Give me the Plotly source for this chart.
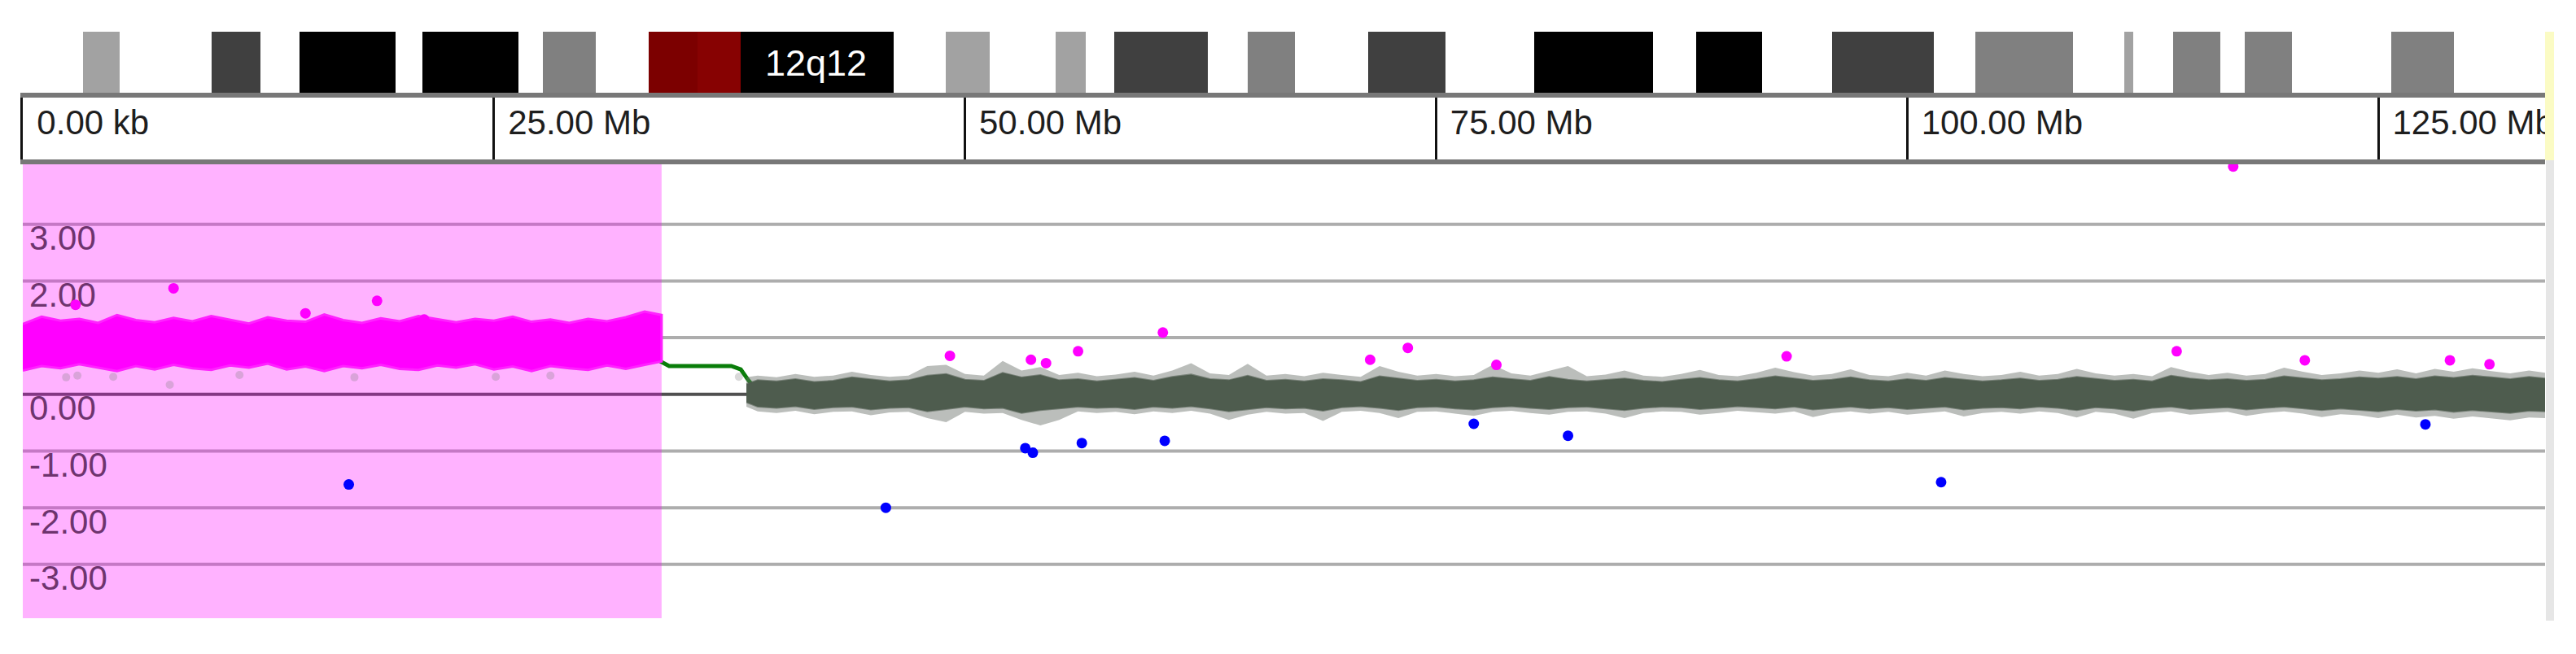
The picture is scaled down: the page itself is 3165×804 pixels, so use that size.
import plotly.graph_objects as go

W, H = 3165, 804
FONT = "Liberation Sans, Arial, sans-serif"

# chromosome 12, positions in Mb
chrom_len = 133.85

# ideogram bands (stained ones only, the rest is white)
band_start = [3.2, 10.0, 14.7, 21.2, 27.6, 33.2, 35.8, 38.1, 49.0, 54.8, 57.9,
              65.0, 71.4, 80.2, 88.8, 96.0, 103.6, 111.5, 114.1, 117.9, 125.7]
band_end = [5.15, 12.6, 19.8, 26.3, 30.4, 35.8, 38.1, 46.2, 51.3, 56.4, 62.9,
            67.5, 75.5, 86.5, 92.3, 101.4, 108.8, 112.0, 116.6, 120.4, 129.0]
band_stain = ["gpos25", "gpos75", "gpos100", "gpos100", "gpos50", "acen", "acen2",
              "gpos100", "gpos25", "gpos25", "gpos75", "gpos50", "gpos75", "gpos100",
              "gpos100", "gpos75", "gpos50", "gpos25", "gpos50", "gpos50", "gpos50"]
stain_color = {"gpos25": "#a2a2a2", "gpos50": "#808080", "gpos75": "#404040",
               "gpos100": "#000000", "acen": "#7c0000", "acen2": "#870202"}
band_label = "12q12"
band_label_pos = 42.1

# ruler
ruler_ticks = [0, 25, 50, 75, 100, 125]
ruler_labels = ["0.00 kb", "25.00 Mb", "50.00 Mb", "75.00 Mb", "100.00 Mb", "125.00 Mb"]

# log ratio axis
grid_vals = [-3, -2, -1, 1, 2, 3]
ylab_vals = [3, 2, 1, 0, -1, -2, -3]
ylab_text = ["3.00", "2.00", "1.00", "0.00", "-1.00", "-2.00", "-3.00"]

# gained region (highlight)
gain_start, gain_end = 0.0, 33.9

# probe cloud in the gained region: upper / lower edge of the magenta band
mag_x = list(range(0, 34)) + [33.9]
mag_up = [1.24, 1.37, 1.30, 1.33, 1.26, 1.40, 1.31, 1.27, 1.35, 1.29,
          1.38, 1.32, 1.25, 1.36, 1.30, 1.28, 1.41, 1.31, 1.26, 1.34,
          1.29, 1.38, 1.32, 1.27, 1.33, 1.30, 1.37, 1.28, 1.32, 1.26,
          1.33, 1.29, 1.36, 1.46, 1.40]
mag_lo = [0.42, 0.50, 0.46, 0.53, 0.47, 0.41, 0.50, 0.44, 0.52, 0.46,
          0.43, 0.51, 0.47, 0.54, 0.44, 0.49, 0.41, 0.50, 0.46, 0.52,
          0.45, 0.43, 0.51, 0.47, 0.53, 0.44, 0.49, 0.41, 0.50, 0.46,
          0.43, 0.51, 0.45, 0.52, 0.58]

# probe cloud of the normal region: core and fringe edges
gray_x = [38.4] + list(range(39, 134)) + [133.85]
core_up = [0.18, 0.25, 0.23, 0.27, 0.22, 0.24, 0.30, 0.26, 0.23, 0.25,
           0.33, 0.36, 0.26, 0.24, 0.38, 0.30, 0.34, 0.25, 0.27, 0.23,
           0.26, 0.29, 0.24, 0.31, 0.35, 0.27, 0.25, 0.33, 0.24, 0.26,
           0.23, 0.27, 0.25, 0.22, 0.32, 0.28, 0.24, 0.26, 0.23, 0.25,
           0.30, 0.27, 0.24, 0.31, 0.26, 0.23, 0.25, 0.28, 0.24, 0.22,
           0.26, 0.29, 0.25, 0.23, 0.27, 0.32, 0.28, 0.24, 0.26, 0.30,
           0.25, 0.23, 0.27, 0.24, 0.29, 0.26, 0.23, 0.25, 0.28, 0.24,
           0.26, 0.31, 0.27, 0.24, 0.26, 0.23, 0.33, 0.28, 0.25, 0.27,
           0.24, 0.26, 0.32, 0.29, 0.25, 0.27, 0.30, 0.28, 0.31, 0.27,
           0.32, 0.29, 0.33, 0.30, 0.27, 0.31, 0.28]
core_lo = [-0.14, -0.22, -0.24, -0.21, -0.26, -0.23, -0.22, -0.27, -0.24, -0.23,
           -0.30, -0.26, -0.22, -0.25, -0.24, -0.33, -0.28, -0.25, -0.22, -0.24,
           -0.23, -0.26, -0.22, -0.24, -0.21, -0.25, -0.30, -0.26, -0.23, -0.25,
           -0.24, -0.29, -0.23, -0.21, -0.24, -0.28, -0.23, -0.22, -0.25, -0.27,
           -0.23, -0.21, -0.24, -0.26, -0.23, -0.22, -0.25, -0.28, -0.24, -0.22,
           -0.23, -0.26, -0.24, -0.21, -0.23, -0.25, -0.22, -0.27, -0.24, -0.22,
           -0.25, -0.23, -0.26, -0.24, -0.22, -0.27, -0.24, -0.23, -0.25, -0.22,
           -0.24, -0.28, -0.23, -0.25, -0.29, -0.24, -0.22, -0.26, -0.24, -0.23,
           -0.27, -0.24, -0.22, -0.25, -0.28, -0.25, -0.27, -0.30, -0.26, -0.29,
           -0.27, -0.31, -0.28, -0.30, -0.33, -0.29, -0.30]
fringe_up = [0.30, 0.33, 0.30, 0.36, 0.31, 0.33, 0.40, 0.34, 0.31, 0.33,
             0.50, 0.52, 0.36, 0.33, 0.59, 0.42, 0.48, 0.34, 0.38, 0.32,
             0.35, 0.40, 0.33, 0.42, 0.55, 0.37, 0.34, 0.54, 0.33, 0.36,
             0.32, 0.38, 0.34, 0.31, 0.50, 0.40, 0.33, 0.36, 0.32, 0.34,
             0.52, 0.37, 0.33, 0.41, 0.50, 0.32, 0.35, 0.42, 0.33, 0.31,
             0.36, 0.43, 0.34, 0.32, 0.38, 0.47, 0.39, 0.33, 0.36, 0.44,
             0.34, 0.32, 0.38, 0.33, 0.42, 0.36, 0.32, 0.34, 0.40, 0.33,
             0.36, 0.45, 0.37, 0.33, 0.36, 0.32, 0.48, 0.40, 0.34, 0.38,
             0.33, 0.36, 0.47, 0.40, 0.34, 0.37, 0.42, 0.38, 0.44, 0.37,
             0.45, 0.40, 0.46, 0.41, 0.37, 0.42, 0.38]
fringe_lo = [-0.22, -0.30, -0.33, -0.29, -0.35, -0.31, -0.30, -0.37, -0.32, -0.31,
             -0.42, -0.49, -0.31, -0.34, -0.33, -0.45, -0.55, -0.45, -0.30, -0.33,
             -0.31, -0.35, -0.30, -0.33, -0.29, -0.34, -0.45, -0.36, -0.31, -0.34,
             -0.33, -0.47, -0.31, -0.29, -0.33, -0.42, -0.31, -0.30, -0.34, -0.38,
             -0.31, -0.29, -0.33, -0.36, -0.31, -0.30, -0.34, -0.42, -0.33, -0.30,
             -0.31, -0.36, -0.33, -0.29, -0.31, -0.34, -0.30, -0.40, -0.33, -0.30,
             -0.34, -0.31, -0.36, -0.33, -0.30, -0.39, -0.33, -0.31, -0.34, -0.30,
             -0.33, -0.41, -0.31, -0.34, -0.43, -0.33, -0.30, -0.36, -0.33, -0.31,
             -0.38, -0.33, -0.30, -0.34, -0.40, -0.35, -0.37, -0.42, -0.36, -0.41,
             -0.38, -0.43, -0.39, -0.42, -0.46, -0.41, -0.42]

# uncalled probes inside the gained region
faint_x = [2.3, 2.9, 4.8, 7.8, 11.5, 17.6, 25.1, 28.0, 38.0]
faint_y = [0.30, 0.33, 0.31, 0.17, 0.34, 0.30, 0.31, 0.33, 0.31]

# single probe gains / losses
gain_px = [2.8, 8.0, 15.0, 18.8, 21.3, 49.2, 53.5, 54.3, 56.0, 60.5,
           71.5, 73.5, 78.2, 93.6, 114.3, 117.3, 121.1, 128.8, 130.9]
gain_py = [1.58, 1.87, 1.43, 1.65, 1.32, 0.68, 0.61, 0.55, 0.76, 1.09,
           0.61, 0.82, 0.52, 0.67, 0.76, 4.02, 0.60, 0.60, 0.53]
loss_px = [17.3, 45.8, 53.2, 53.6, 56.2, 60.6, 77.0, 82.0, 101.8, 127.5]
loss_py = [-1.59, -2.00, -0.95, -1.03, -0.86, -0.82, -0.52, -0.73, -1.55, -0.53]

# segmentation line
seg_x = [0, 33.7, 33.85, 34.3, 37.6, 38.1, 38.5, 39.0, 133.85]
seg_y = [0.88, 0.88, 0.58, 0.50, 0.50, 0.44, 0.25, 0.05, 0.03]


def px_x(p):
    return p / W


def px_y(p):
    return 1 - p / H


x_dom = [px_x(28), px_x(3127)]

fig = go.Figure()

# ideogram
fig.add_trace(go.Bar(
    y=[0] * len(band_start), base=band_start,
    x=[e - s for s, e in zip(band_start, band_end)],
    orientation="h", width=1,
    marker=dict(color=[stain_color[s] for s in band_stain], line_width=0),
    xaxis="x2", yaxis="y2"))

# ruler labels
fig.add_trace(go.Scatter(
    x=[t + 0.75 for t in ruler_ticks], y=[0.08] * len(ruler_ticks),
    text=ruler_labels, mode="text", textposition="middle right",
    textfont=dict(family=FONT, size=42, color="#1e1e1e"),
    cliponaxis=True, xaxis="x3", yaxis="y3"))

# y labels (drawn under the data)
fig.add_trace(go.Scatter(
    x=[0.35] * len(ylab_vals), y=ylab_vals, text=ylab_text, mode="text",
    textposition="bottom right",
    textfont=dict(family=FONT, size=42, color="#6e346e"),
    cliponaxis=False))

# segmentation
fig.add_trace(go.Scatter(x=seg_x, y=seg_y, mode="lines",
                         line=dict(color="#0a7d0a", width=5)))

# faint probes
fig.add_trace(go.Scatter(x=faint_x, y=faint_y, mode="markers",
                         marker=dict(color="rgba(130,130,130,0.3)", size=10)))

# normal probe cloud: fringe then core
fig.add_trace(go.Scatter(
    x=gray_x + gray_x[::-1], y=fringe_up + fringe_lo[::-1],
    fill="toself", mode="lines", line=dict(width=0),
    fillcolor="rgba(105,110,105,0.45)"))
fig.add_trace(go.Scatter(
    x=gray_x + gray_x[::-1], y=core_up + core_lo[::-1],
    fill="toself", mode="lines", line=dict(width=2, color="rgba(78,92,78,0.6)"),
    fillcolor="#4e5c4e"))

# gained probe cloud
fig.add_trace(go.Scatter(
    x=mag_x + mag_x[::-1], y=mag_up + mag_lo[::-1],
    fill="toself", mode="lines", line=dict(width=3, color="#ff22ff"),
    fillcolor="#ff00ff"))

fig.add_trace(go.Scatter(x=gain_px, y=gain_py, mode="markers",
                         marker=dict(color="#ff00ff", size=13, line_width=0)))
fig.add_trace(go.Scatter(x=loss_px, y=loss_py, mode="markers",
                         marker=dict(color="#0000ff", size=13, line_width=0)))

fig.update_traces(hoverinfo="skip")

# grid drawn as shapes so the translucent highlight can sit over it
shapes = [dict(type="line", xref="x domain", x0=0, x1=1, yref="y", y0=g, y1=g,
               line=dict(color="#adadad", width=4), layer="below")
          for g in grid_vals]
shapes += [
    dict(type="line", xref="x domain", x0=0, x1=1, yref="y", y0=0, y1=0,
         line=dict(color="#505050", width=4), layer="below"),
    dict(type="rect", xref="x", x0=gain_start, x1=gain_end,
         yref="y domain", y0=0, y1=0.995, line_width=0,
         fillcolor="rgba(255,0,255,0.30)", layer="below"),
    # side strips at the right edge
    dict(type="rect", xref="paper", x0=px_x(3127), x1=px_x(3138),
         yref="paper", y0=px_y(197), y1=px_y(39), line_width=0,
         fillcolor="#fbfbc4", layer="above"),
    dict(type="rect", xref="paper", x0=px_x(3128), x1=px_x(3138),
         yref="paper", y0=px_y(763), y1=px_y(197), line_width=0,
         fillcolor="#e6e6e6", layer="above"),
]

fig.update_layout(
    width=W, height=H, margin=dict(l=0, r=0, t=0, b=0),
    paper_bgcolor="white", plot_bgcolor="white",
    showlegend=False, hovermode=False, bargap=0,
    shapes=shapes,
    annotations=[dict(text=band_label, x=band_label_pos, y=0, xref="x2", yref="y2",
                      showarrow=False, font=dict(family=FONT, size=45, color="white"))],
    xaxis=dict(domain=x_dom, range=[0, chrom_len], showgrid=False, zeroline=False,
               showticklabels=False, ticks="", fixedrange=True),
    yaxis=dict(domain=[px_y(760), px_y(197)], range=[-3.95, 4.13],
               showgrid=False, zeroline=False,
               showticklabels=False, ticks="", fixedrange=True),
    xaxis2=dict(domain=x_dom, range=[0, chrom_len], anchor="y2", visible=False),
    yaxis2=dict(domain=[px_y(117), px_y(39)], range=[-0.5, 0.5], anchor="x2",
                visible=False),
    xaxis3=dict(domain=x_dom, range=[0, chrom_len], anchor="y3",
                tickmode="array", tickvals=ruler_ticks, showgrid=True,
                gridcolor="#111111", gridwidth=3, showline=True, mirror=True,
                linecolor="#787878", linewidth=6, zeroline=False,
                showticklabels=False, ticks=""),
    yaxis3=dict(domain=[px_y(196), px_y(120)], range=[-1, 1], anchor="x3",
                showline=True, linecolor="#111111", linewidth=3,
                showgrid=False, zeroline=False, showticklabels=False, ticks=""),
)

fig.write_html("out.html", config={"displayModeBar": False},
               post_script="document.body.style.margin = '0';")
